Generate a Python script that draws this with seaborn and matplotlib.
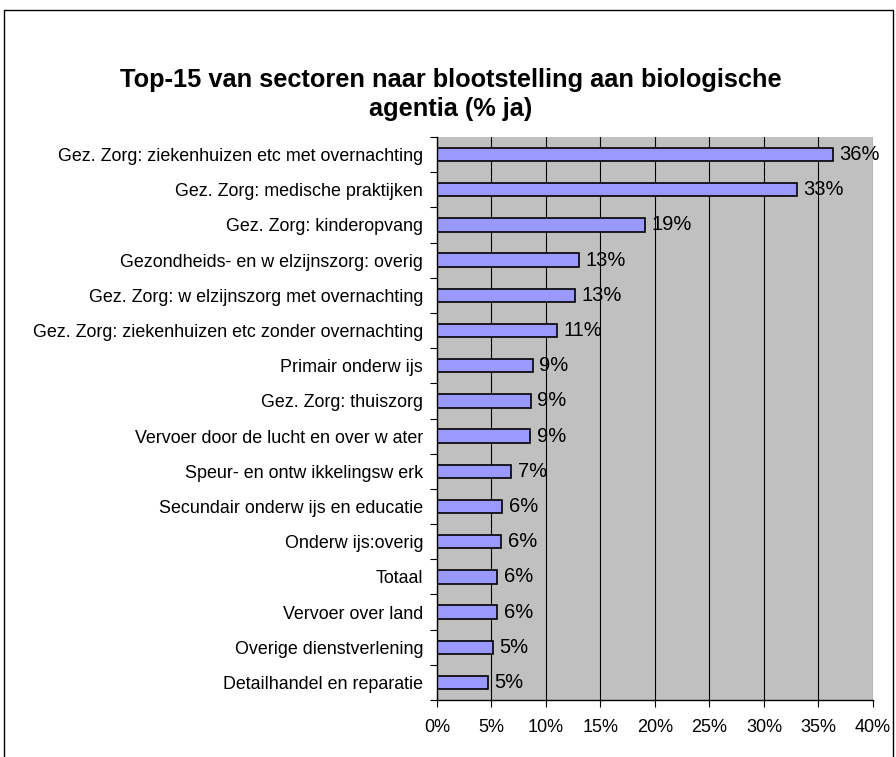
import numpy as np
import pandas as pd
import seaborn as sns
import matplotlib.pyplot as plt
from matplotlib.patches import Rectangle
from matplotlib.ticker import MultipleLocator, FixedLocator

sectors = [
    "Gez. Zorg: ziekenhuizen etc met overnachting",
    "Gez. Zorg: medische praktijken",
    "Gez. Zorg: kinderopvang",
    "Gezondheids- en w elzijnszorg: overig",
    "Gez. Zorg: w elzijnszorg met overnachting",
    "Gez. Zorg: ziekenhuizen etc zonder overnachting",
    "Primair onderw ijs",
    "Gez. Zorg: thuiszorg",
    "Vervoer door de lucht en over w ater",
    "Speur- en ontw ikkelingsw erk",
    "Secundair onderw ijs en educatie",
    "Onderw ijs:overig",
    "Totaal",
    "Vervoer over land",
    "Overige dienstverlening",
    "Detailhandel en reparatie",
]
pct_yes = [36.3, 33.0, 19.1, 13.0, 12.7, 11.0, 8.8, 8.6, 8.55, 6.8,
           6.0, 5.9, 5.55, 5.55, 5.1, 4.65]

df = pd.DataFrame({"sector": sectors, "pct": pct_yes})

plt.rcParams["font.family"] = ["Liberation Sans", "DejaVu Sans"]

fig = plt.figure(figsize=(8.96, 7.57), dpi=100)
ax = fig.add_axes([0.4877, 0.0753, 0.4866, 0.7437])
ax.set_facecolor("#C0C0C0")

sns.barplot(data=df, x="pct", y="sector", orient="h", color="#9999FF",
            edgecolor="black", linewidth=1.2, width=0.38, saturation=1, ax=ax)

ax.set_xlim(0, 40)
ax.set_ylim(15.5, -0.5)
ax.xaxis.set_major_locator(MultipleLocator(5))
ax.set_xticklabels([f"{int(t)}%" for t in ax.get_xticks()])
ax.grid(axis="x", color="black", linewidth=0.8)
ax.set_axisbelow(True)

# Excel style ticks between categories
ax.yaxis.set_minor_locator(FixedLocator(np.arange(-0.5, 16, 1)))
ax.tick_params(axis="y", which="major", length=0, pad=10, labelsize=12.9)
ax.tick_params(axis="y", which="minor", length=5, width=0.8, direction="out")
ax.tick_params(axis="x", length=5, width=0.8, direction="out", labelsize=13, pad=9)

for s in ["top", "right"]:
    ax.spines[s].set_visible(False)
ax.spines["left"].set_linewidth(1.0)
ax.spines["bottom"].set_linewidth(1.0)
ax.set_xlabel("")
ax.set_ylabel("")

for i, v in enumerate(pct_yes):
    ax.text(v + 0.6, i, f"{v:.0f}%", va="center", ha="left", fontsize=14.5)

fig.text(0.503, 0.875, "Top-15 van sectoren naar blootstelling aan biologische\nagentia (% ja)",
         ha="center", va="center", fontsize=18.3, fontweight="bold", linespacing=1.25)

fig.patches.append(Rectangle((0.0045, -0.05), 0.992, 0.9868 + 0.05, transform=fig.transFigure,
                             fill=False, edgecolor="black", linewidth=1.0))

fig.savefig("out.png", dpi=100)
